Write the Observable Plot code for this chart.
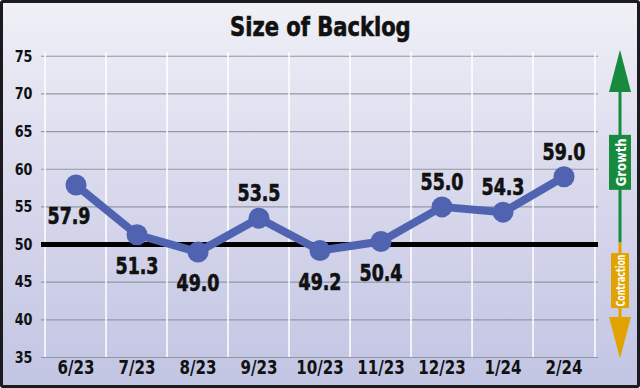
<!DOCTYPE html>
<html><head><meta charset="utf-8">
<script src="https://cdn.jsdelivr.net/npm/d3@7"></script>
<script src="https://cdn.jsdelivr.net/npm/@observablehq/plot@0.6"></script>
<style>
html,body{margin:0;padding:0;}
#frame{width:640px;height:388px;box-sizing:border-box;border:3px solid #1b1b1f;border-radius:3px;
 background:linear-gradient(#f0f0f7 0%, #dcdcee 40%, #c2c5e3 100%);overflow:hidden;
 font-family:"DejaVu Sans Condensed","DejaVu Sans",sans-serif;font-stretch:condensed;}
#title{height:42px;line-height:49px;text-align:center;font-weight:bold;font-size:26px;color:#111;}
#title span{display:inline-block;transform:scaleX(0.9);-webkit-text-stroke:0.6px #111;}
</style></head><body>
<div id="frame"><div id="title"><span>Size of Backlog</span></div><div id="chart"></div></div>
<script>
const months = ["6/23","7/23","8/23","9/23","10/23","11/23","12/23","1/24","2/24"];
const values = [57.9, 51.3, 49.0, 53.5, 49.2, 50.4, 55.0, 54.3, 59.0];
const labelSide = ["below","below","below","above","below","below","above","above","above"];
const yTicks = [35,40,45,50,55,60,65,70,75];
const baseline = [50];
const growthLabel = "Growth";
const contractionLabel = "Contraction";

const data = months.map((m,i)=>({month:m, value:values[i], side:labelSide[i]}));
const font = '"DejaVu Sans Condensed","DejaVu Sans",sans-serif';
const W = 634, mL = 38, mR = 39;
const bw = (W - mL - mR) / months.length;

const labelStyle = {x:"month", y:"value", text:d=>d.value.toFixed(1), fontSize:22.5, fontWeight:"bold", fill:"#111", stroke:"#111", strokeWidth:0.6};
const plot = Plot.plot({
  width:W, height:340,
  marginLeft:mL, marginRight:mR, marginTop:7, marginBottom:28,
  style:{background:"transparent", fontFamily:font, color:"#111", overflow:"visible"},
  x:{type:"band", domain:months, padding:0, label:null},
  y:{domain:[35,75.5], ticks:yTicks, label:null},
  marks:[
    Plot.gridY(yTicks.filter(t=>t!==50), {stroke:"#9496a6", strokeOpacity:1, strokeWidth:1.2}),
    Plot.ruleX(months, {x:d=>d, stroke:"#ffffff", strokeWidth:1.5, dx:-bw/2, y1:35, y2:75.5}),
    Plot.ruleX([months[months.length-1]], {stroke:"#ffffff", strokeWidth:1.5, dx:bw/2, y1:35, y2:75.5}),
    Plot.ruleY(baseline, {stroke:"#000", strokeWidth:5}),
    Plot.line(data, {x:"month", y:"value", stroke:"#4f63b1", strokeWidth:8}),
    Plot.dot(data, {x:"month", y:"value", r:10.5, fill:"#4f63b1"}),
    Plot.text(data.filter(d=>d.side==="above"), {...labelStyle, dy:-24}),
    Plot.text(data.filter(d=>d.side==="below" && d.month!=="6/23"), {...labelStyle, dy:32}),
    Plot.text(data.filter(d=>d.month==="6/23"), {...labelStyle, dy:32, dx:-7}),
    Plot.axisY({ticks:yTicks, tickSize:0, tickPadding:9, fontSize:16.5, fontWeight:"bold", label:null}),
    Plot.axisX({tickSize:0, tickPadding:3, fontSize:19.5, fontWeight:"bold", label:null})
  ]
});
document.getElementById("chart").appendChild(plot);

// growth / contraction arrows on the right, placed with the y scale
const y = plot.scale("y");
const svg = d3.select(plot);
const ax = 617;
const g = svg.append("g");
const green = "#178a3e", orange = "#e2a300";
g.append("line").attr("x1",ax).attr("x2",ax).attr("y1",y.apply(70.5)).attr("y2",y.apply(50.2)).attr("stroke",green).attr("stroke-width",3);
g.append("path").attr("d",`M${ax},${y.apply(75.8)} L${ax+11},${y.apply(70.2)} L${ax-11},${y.apply(70.2)} Z`).attr("fill",green);
g.append("rect").attr("x",ax-11).attr("width",22).attr("y",y.apply(64.5)).attr("height",y.apply(57.2)-y.apply(64.5)).attr("fill",green);
g.append("text").attr("class","boxlabel").attr("data-fit",48).attr("transform",`translate(${ax+1},${(y.apply(64.5)+y.apply(57.2))/2}) rotate(-90)`)
 .attr("text-anchor","middle").attr("dominant-baseline","central").attr("fill","#fff").attr("font-size",14).attr("font-weight","bold").text(growthLabel);
g.append("line").attr("x1",ax).attr("x2",ax).attr("y1",y.apply(50.2)).attr("y2",y.apply(40)).attr("stroke",orange).attr("stroke-width",3);
g.append("rect").attr("x",ax-9).attr("width",18).attr("y",y.apply(48.8)).attr("height",y.apply(41.5)-y.apply(48.8)).attr("fill",orange);
g.append("text").attr("class","boxlabel").attr("data-fit",52).attr("transform",`translate(${ax},${(y.apply(48.8)+y.apply(41.5))/2}) rotate(-90)`)
 .attr("text-anchor","middle").attr("dominant-baseline","central").attr("fill","#fff").attr("font-size",13).attr("font-weight","bold").text(contractionLabel);
g.append("path").attr("d",`M${ax-11},${y.apply(40.3)} L${ax+11},${y.apply(40.3)} L${ax},${y.apply(34.8)} Z`).attr("fill",orange);

// condense glyphs to mimic the narrow typeface of the reference
plot.querySelectorAll("text").forEach(t => {
  const L = t.getComputedTextLength();
  const fit = t.getAttribute("data-fit");
  const target = fit ? Math.min(+fit, L) : L * 0.86;
  t.setAttribute("textLength", target);
  t.setAttribute("lengthAdjust", "spacingAndGlyphs");
});
</script>
</body></html>
